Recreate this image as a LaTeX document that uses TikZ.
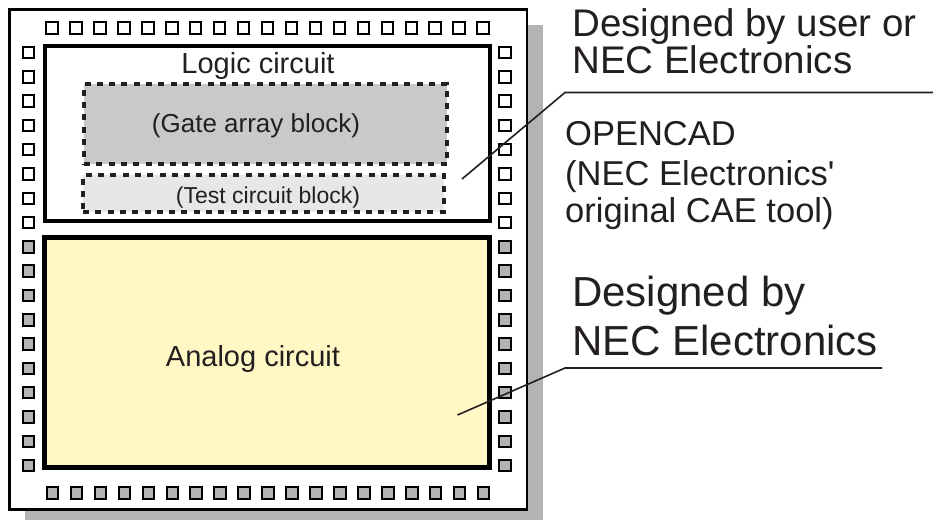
\documentclass[tikz,border=0pt]{standalone}
\usepackage{fontspec}
\setmainfont{Liberation Sans}
\definecolor{ink}{HTML}{231F20}
\definecolor{shadowgray}{HTML}{B3B3B3}
\definecolor{gatefill}{HTML}{C8C9CB}
\definecolor{testfill}{HTML}{E6E7E8}
\definecolor{analogfill}{HTML}{FFF8C5}
\definecolor{padgray}{HTML}{B3B3B3}
\tikzset{
    padw/.style={draw=black, line width=2, fill=white, minimum size=11.5, inner sep=0},
    padg/.style={padw, fill=padgray},
    blockbox/.style={draw=black, line width=4.5, inner sep=0},
    dotbox/.style={draw=ink, line width=4.5, dash pattern=on 6pt off 6.3pt, inner sep=0},
    leader/.style={draw=ink, line width=1.6},
    lbl/.style={text=ink, inner sep=0},
}

\begin{document}
\begin{tikzpicture}[x=1pt, y=-1pt]
    \useasboundingbox (0,0) rectangle (933,520);
    \fill[shadowgray] (25,25) rectangle (543,520);
    \node[draw=black, line width=2.2, fill=white, minimum width=517.5, minimum height=500, inner sep=0] (chip) at (268.25,259.5) {};
    \node[blockbox, fill=white, minimum width=445, minimum height=175] (logic) at (267.5,133.5) {};
    \node[blockbox, fill=analogfill, minimum width=445, minimum height=230] (analog) at (267,352.5) {};
    \node[dotbox, fill=gatefill, minimum width=363, minimum height=80] (gate) at (265.5,124) {};
    \node[dotbox, fill=testfill, minimum width=361, minimum height=37] (test) at (263.5,193.5) {};
    \foreach \i in {0,...,18} {
        \node[padw] (top\i) at ({52+23.95*\i},28) {};
        \node[padg] (bot\i) at ({52.5+23.95*\i},493) {};
    }
    \foreach \j in {0,...,7} {
        \node[padw] (left\j) at (28.3,{52.5+24.3*\j}) {};
        \node[padw] (right\j) at (505,{52.5+24.3*\j}) {};
    }
    \foreach \j in {8,...,17} {
        \node[padg] (left\j) at (28.3,{52.5+24.3*\j}) {};
        \node[padg] (right\j) at (505,{52.5+24.3*\j}) {};
    }
    \node[lbl, font=\fontsize{29}{29}\selectfont, anchor=base] (logiclbl) at (258,73) {Logic circuit};
    \node[lbl, font=\fontsize{26}{26}\selectfont, anchor=base] (gatelbl) at (256,132) {(Gate array block)};
    \node[lbl, font=\fontsize{23}{23}\selectfont, anchor=base] (testlbl) at (268,203) {(Test circuit block)};
    \node[lbl, font=\fontsize{29}{29}\selectfont, anchor=base] (analoglbl) at (253,366) {Analog circuit};
    \node[lbl, font=\fontsize{38.5}{38.5}\selectfont, anchor=base west] (user1) at (572,36) {Designed by user or};
    \node[lbl, font=\fontsize{38.5}{38.5}\selectfont, anchor=base west] (user2) at (572,73) {NEC Electronics};
    \node[lbl, font=\fontsize{34.5}{34.5}\selectfont, anchor=base west] (cad1) at (565,145) {OPENCAD};
    \node[lbl, font=\fontsize{34.5}{34.5}\selectfont, anchor=base west] (cad2) at (565,185) {(NEC Electronics\textquotesingle};
    \node[lbl, font=\fontsize{34.5}{34.5}\selectfont, anchor=base west] (cad3) at (565,222) {original CAE tool)};
    \node[lbl, font=\fontsize{42}{42}\selectfont, anchor=base west] (nec1) at (572,306) {Designed by};
    \node[lbl, font=\fontsize{42}{42}\selectfont, anchor=base west] (nec2) at (572,355) {NEC Electronics};
    \coordinate (tip1) at (462,179);
    \coordinate (knee1) at (565,92.5);
    \coordinate (end1) at (933,92.5);
    \coordinate (tip2) at (457.5,415);
    \coordinate (knee2) at (565,368);
    \coordinate (end2) at (882,368);
    \draw[leader] (tip1) -- (knee1) -- (end1);
    \draw[leader] (tip2) -- (knee2) -- (end2);
\end{tikzpicture}
\end{document}
